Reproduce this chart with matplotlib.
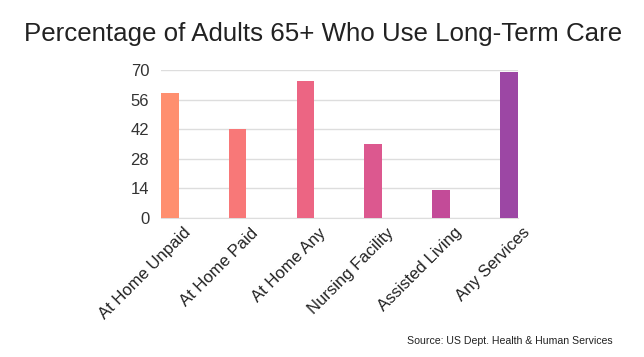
import matplotlib
matplotlib.use("Agg")
import matplotlib.pyplot as plt
from matplotlib.transforms import ScaledTranslation

categories = ["At Home Unpaid", "At Home Paid", "At Home Any",
              "Nursing Facility", "Assisted Living", "Any Services"]
values = [59, 42, 65, 35, 13, 69]
colors = ["#FF8F6F", "#F87878", "#EC6583", "#DC588F", "#C34B98", "#9C47A4"]
yticks = [0, 14, 28, 42, 56, 70]

plt.rcParams['font.family'] = ['Liberation Sans', 'DejaVu Sans']

fig = plt.figure(figsize=(6.44, 3.57), dpi=100)
ax = fig.add_axes([0.25, 0.39, 0.554, 0.414])

w = 0.26
x = list(range(len(categories)))
ax.bar(x, values, width=w, color=colors, zorder=3)
ax.set_xlim(-w / 2, len(categories) - 1 + w / 2)
ax.set_ylim(0, 70)
ax.set_yticks(yticks)
ax.set_yticklabels([str(t) for t in yticks], fontsize=12, color="#333333")
ax.yaxis.grid(True, color="#DDDDDD", linewidth=1, zorder=0)
ax.tick_params(axis='both', length=0)
ax.tick_params(axis='y', pad=8.5)
ax.set_xticks(x)
ax.set_xticklabels(categories, rotation=45, ha='right', rotation_mode='anchor',
                   fontsize=12, color="#222222")
ax.tick_params(axis='x', pad=6)
offset = ScaledTranslation(0.13, 0.01, fig.dpi_scale_trans)
for lbl in ax.get_xticklabels():
    lbl.set_transform(lbl.get_transform() + offset)
for s in ['top', 'right', 'left']:
    ax.spines[s].set_visible(False)
ax.spines['bottom'].set_color("#DDDDDD")

fig.text(0.502, 0.905, "Percentage of Adults 65+ Who Use Long-Term Care",
         ha='center', va='center', fontsize=18.6, color="#222222")
fig.text(0.951, 0.045, "Source: US Dept. Health & Human Services",
         ha='right', va='center', fontsize=7.6, color="#222222")

fig.savefig("out.png", dpi=100)
